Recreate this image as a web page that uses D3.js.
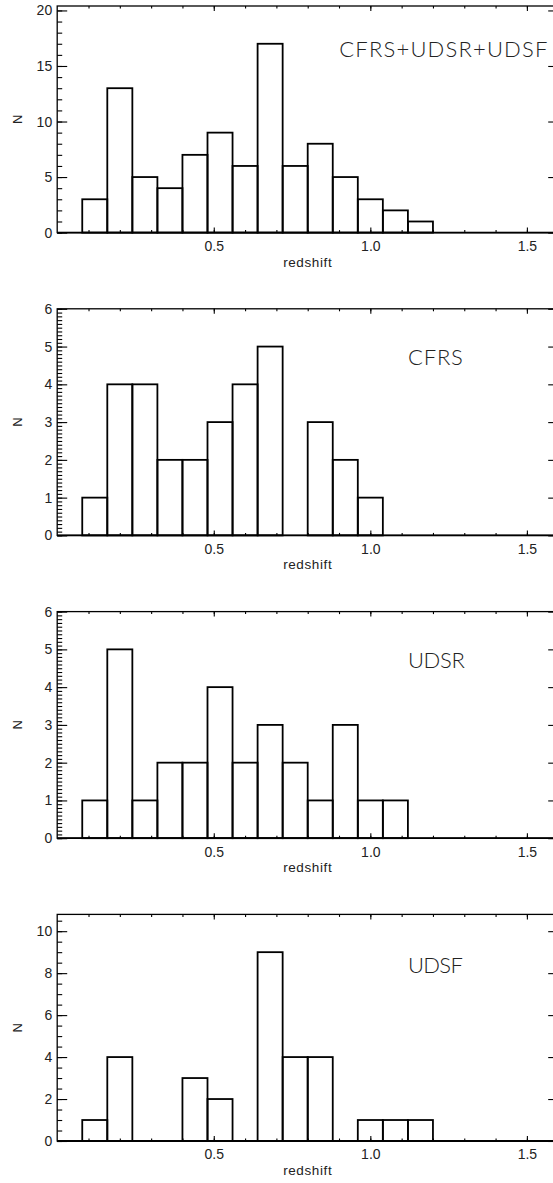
<!DOCTYPE html>
<html><head><meta charset="utf-8">
<script src="https://cdn.jsdelivr.net/npm/d3@7"></script>
<style>body{margin:0;background:#fff} svg{display:block}</style>
</head><body>
<script>
// ---- data ----
const binLeft = [0.08,0.16,0.24,0.32,0.40,0.48,0.56,0.64,0.72,0.80,0.88,0.96,1.04,1.12];
const binWidth = 0.08;
const countsAll  = [3,13,5,4,7,9,6,17,6,8,5,3,2,1];
const countsCFRS = [1,4,4,2,2,3,4,5,0,3,2,1,0,0];
const countsUDSR = [1,5,1,2,2,4,2,3,2,1,3,1,1,0];
const countsUDSF = [1,4,0,0,3,2,0,9,4,4,0,1,1,1];
const panelLabels = ["CFRS+UDSR+UDSF","CFRS","UDSR","UDSF"];
const yMax = [20.4, 6, 6, 10.8];
const yMajorTicks = [[0,5,10,15,20],[0,1,2,3,4,5,6],[0,1,2,3,4,5,6],[0,2,4,6,8,10]];
const yMinorStep = [1, 0.1, 0.1, 0.5];
const xDomain = [0, 1.6];
const xMajorTicks = [0.5, 1.0, 1.5];
const xMinorStep = 0.1;
const xTitle = "redshift";
const yTitle = "N";

// ---- drawing ----
const series = [countsAll, countsCFRS, countsUDSR, countsUDSF];
const labelAt = [[0.901,15.77],[1.12,4.5],[1.12,4.5],[1.12,8.0]];
const labelWidth = [208, 55, 57, 55];
const W = 553, H = 1183;
const svg = d3.select("body").append("svg").attr("width", W).attr("height", H);
const left = 57.2, right = 558.2;
const x = d3.scaleLinear(xDomain, [left, right]);
const tickFont = "'Liberation Sans', Arial, sans-serif";

series.forEach((counts, i) => {
  const top = 6 + i * 302.8, bottom = top + 226.6;
  const y = d3.scaleLinear([0, yMax[i]], [bottom, top]);
  const g = svg.append("g");

  // histogram bars
  const bars = binLeft.map((b, k) => ({x0: b, x1: b + binWidth, n: counts[k]}));
  g.append("line").attr("x1", x(xDomain[0])).attr("x2", x(xDomain[1]))
    .attr("y1", y(0)).attr("y2", y(0)).attr("stroke", "#000").attr("stroke-width", 1.8);
  g.selectAll("rect.bar").data(bars.filter(d => d.n > 0)).join("rect")
    .attr("class", "bar")
    .attr("x", d => x(d.x0)).attr("width", d => x(d.x1) - x(d.x0))
    .attr("y", d => y(d.n)).attr("height", d => y(0) - y(d.n))
    .attr("fill", "none").attr("stroke", "#000").attr("stroke-width", 1.8);

  // axes
  const styleAxis = (sel) => {
    sel.select(".domain").remove();
    sel.selectAll(".tick line").attr("stroke", "#000").attr("stroke-width", 1.1);
    sel.selectAll(".tick text").attr("fill", "#222").style("font-family", tickFont).style("font-size", "14px");
  };
  const yMinor = d3.range(0, yMax[i] + 1e-9, yMinorStep[i]);
  const xMinor = d3.range(0.1, xDomain[1] - 1e-9, xMinorStep);

  g.append("g").attr("transform", `translate(${left},0)`)
    .call(d3.axisLeft(y).tickValues(yMinor).tickSize(-5).tickFormat("")).call(styleAxis);
  g.append("g").attr("transform", `translate(${left},0)`)
    .call(d3.axisLeft(y).tickValues(yMajorTicks[i]).tickSize(-10).tickPadding(5).tickFormat(d3.format("d"))).call(styleAxis);
  g.append("g").attr("transform", `translate(${right},0)`)
    .call(d3.axisRight(y).tickValues(yMinor).tickSize(-5).tickFormat("")).call(styleAxis);
  g.append("g").attr("transform", `translate(${right},0)`)
    .call(d3.axisRight(y).tickValues(yMajorTicks[i]).tickSize(-10).tickFormat("")).call(styleAxis);

  g.append("g").attr("transform", `translate(0,${bottom})`)
    .call(d3.axisBottom(x).tickValues(xMinor).tickSize(-2.5).tickFormat("")).call(styleAxis);
  g.append("g").attr("transform", `translate(0,${bottom})`)
    .call(d3.axisBottom(x).tickValues(xMajorTicks).tickSize(-5).tickPadding(8.5).tickFormat(d3.format(".1f"))).call(styleAxis);
  g.append("g").attr("transform", `translate(0,${top})`)
    .call(d3.axisTop(x).tickValues(xMinor).tickSize(-2.5).tickFormat("")).call(styleAxis);
  g.append("g").attr("transform", `translate(0,${top})`)
    .call(d3.axisTop(x).tickValues(xMajorTicks).tickSize(-5).tickFormat("")).call(styleAxis);

  // frame
  g.append("rect").attr("x", left).attr("y", top).attr("width", right - left).attr("height", bottom - top)
    .attr("fill", "none").attr("stroke", "#000").attr("stroke-width", 1.3);

  // titles
  g.append("text").attr("x", (left + right) / 2).attr("y", bottom + 34)
    .attr("text-anchor", "middle").style("font-family", tickFont).style("font-size", "13.5px")
    .style("letter-spacing", "0.6px").attr("fill", "#222").text(xTitle);
  g.append("text").attr("transform", `translate(22,${(top + bottom) / 2}) rotate(-90)`)
    .attr("text-anchor", "middle").style("font-family", tickFont).style("font-size", "13px")
    .attr("fill", "#222").text(yTitle);

  // panel label
  g.append("text").attr("x", x(labelAt[i][0])).attr("y", y(labelAt[i][1]))
    .attr("textLength", labelWidth[i]).attr("lengthAdjust", "spacing")
    .style("font-family", "Lato, 'DejaVu Sans', sans-serif").style("font-weight", 300)
    .style("font-size", "22px").attr("fill", "#222").text(panelLabels[i]);
});
</script>
</body></html>
